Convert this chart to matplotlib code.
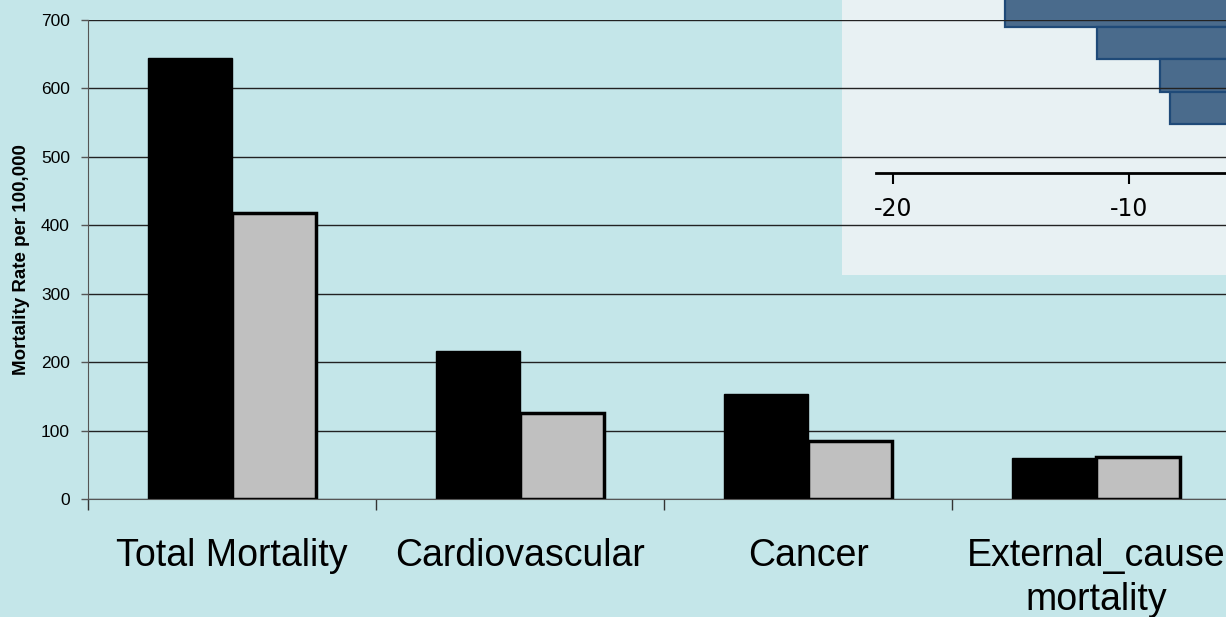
import numpy as np
import matplotlib.pyplot as plt
from matplotlib.ticker import FixedLocator

# data
categories = ['Total Mortality', 'Cardiovascular', 'Cancer', 'External_cause\nmortality']
series_black = [645, 216, 153, 60]
series_gray = [418, 126, 85, 61]
y_ticks = [0, 100, 200, 300, 400, 500, 600, 700]

# inset (partly visible horizontal bars)
inset_values = [-15.25, -11.35, -8.7, -8.25]
inset_ticks = [-20, -10]
inset_tick_labels = ['-20', '-10']

bg = '#C4E6E9'
W, H = 1226, 617

fig = plt.figure(figsize=(W / 100, H / 100), dpi=100, facecolor=bg)

# inset panel sits behind the main plot (main gridlines run over it)
ax_in = fig.add_axes([842 / W, (H - 275) / H, (W - 842) / W, 275 / H], zorder=0)
ax_in.set_facecolor('#E8F1F3')
rows = np.arange(len(inset_values))
ax_in.barh(rows, inset_values, height=1.0, left=0, color='#4A6B8C',
           edgecolor='#1F4A78', linewidth=1.6)
ax_in.set_xlim(-22.16, -5.89)
ax_in.set_ylim(8.14, -0.323)
for s in ['top', 'right', 'left']:
    ax_in.spines[s].set_visible(False)
ax_in.spines['bottom'].set_position(('data', 5))
ax_in.spines['bottom'].set_bounds(-20.72, 0)
ax_in.spines['bottom'].set_linewidth(2)
ax_in.spines['bottom'].set_zorder(5)
ax_in.set_xticks(inset_ticks)
ax_in.set_xticklabels(inset_tick_labels, fontsize=17, family='DejaVu Sans')
ax_in.tick_params(axis='x', direction='out', length=8, width=1.5, pad=9)
ax_in.set_yticks([])

# main bar chart
ax = fig.add_axes([88 / W, (H - 499) / H, 1152 / W, 479 / H], zorder=1)
ax.patch.set_visible(False)
x = np.arange(len(categories)) + 0.5
bw = 0.29
ax.bar(x - bw / 2, series_black, width=bw, color='black', edgecolor='black',
       linewidth=1, zorder=3)
ax.bar(x + bw / 2, series_gray, width=bw, color='#C0C0C0', edgecolor='black',
       linewidth=2.5, zorder=3)

ax.set_xlim(0, len(categories))
ax.set_ylim(0, 700)
ax.set_yticks(y_ticks)
ax.set_yticklabels([str(v) for v in y_ticks], fontsize=12.5, family='Liberation Sans')
ax.tick_params(axis='y', direction='out', length=5, width=1, color='#555555', pad=8)

ax.set_xticks(x)
ax.set_xticklabels(categories, fontsize=27, family='Liberation Sans', linespacing=1.3)
ax.tick_params(axis='x', which='major', length=0, pad=28)
ax.xaxis.set_minor_locator(FixedLocator(np.arange(len(categories) + 1)))
ax.tick_params(axis='x', which='minor', direction='out', length=8, width=1, color='#333333')

ax.grid(axis='y', color='#222222', linewidth=1)
ax.set_axisbelow(True)
for s in ['top', 'right']:
    ax.spines[s].set_visible(False)
ax.spines['left'].set_color('#555555')
ax.spines['bottom'].set_color('#555555')
ax.spines['bottom'].set_zorder(4)

fig.text(22 / W, (H - 260) / H, 'Mortality Rate per 100,000', rotation=90,
         fontsize=13.5, fontweight='bold', family='Liberation Sans',
         ha='center', va='center')

fig.savefig('out.png', dpi=100, facecolor=bg)
